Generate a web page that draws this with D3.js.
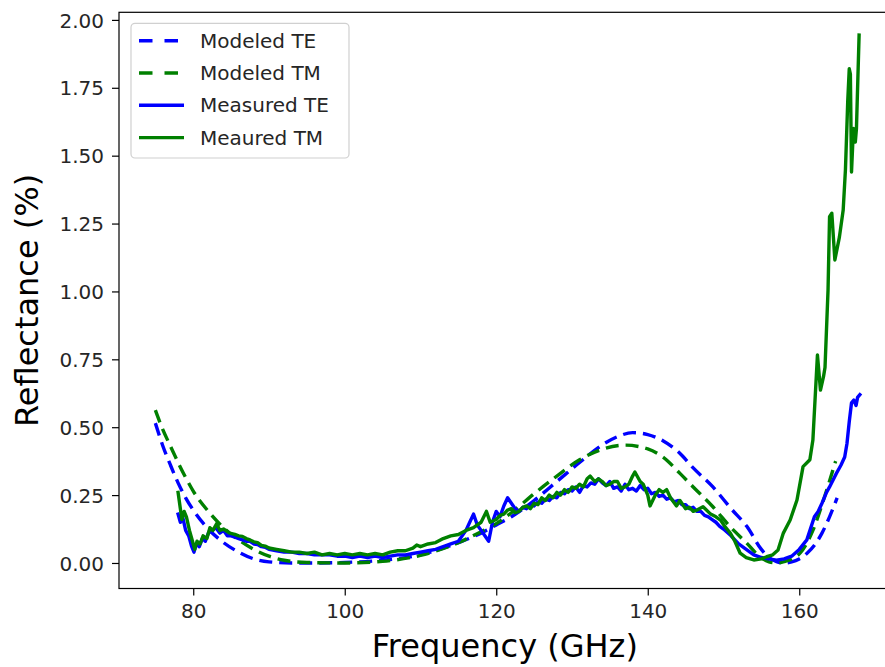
<!DOCTYPE html>
<html>
<head>
<meta charset="utf-8">
<script src="https://cdn.jsdelivr.net/npm/d3@7/dist/d3.min.js"></script>
<style>
  html, body { margin: 0; padding: 0; background: #fff; }
  svg { display: block; font-family: "DejaVu Sans", sans-serif; }
</style>
</head>
<body>
<svg id="chart" width="885" height="667"></svg>
<script>
// ---------- data ----------
const xTicks = [80, 100, 120, 140, 160];
const yTicks = [0, 0.25, 0.5, 0.75, 1.0, 1.25, 1.5, 1.75, 2.0];
const seriesNames = ["Modeled TE", "Modeled TM", "Measured TE", "Meaured TM"];

const modeledTE_f = [75, 76, 77, 78, 79, 80, 82, 84, 86, 88, 90, 93, 96, 100, 105, 110, 115, 118, 120, 122, 125, 128, 131, 134, 136, 138, 140, 142, 144.2, 146, 148.6, 151, 153.1, 155, 156, 157, 158, 159, 160, 161, 162, 163, 164, 165];
const modeledTE_r = [0.515, 0.43, 0.36, 0.295, 0.24, 0.195, 0.125, 0.075, 0.04, 0.015, 0.004, 0.0, 0.0, 0.002, 0.01, 0.03, 0.075, 0.11, 0.14, 0.17, 0.23, 0.3, 0.37, 0.435, 0.465, 0.48, 0.473, 0.45, 0.405, 0.35, 0.28, 0.2, 0.134, 0.05, 0.02, 0.005, 0.0, 0.004, 0.015, 0.035, 0.065, 0.11, 0.17, 0.24];

const modeledTM_f = [75, 76, 77, 78, 79, 80, 82, 84, 86, 88, 90, 92, 95, 100, 105, 110, 115, 118, 120, 122, 125, 128, 131, 133.7, 137, 140, 142, 144.25, 146, 148.6, 151, 153.1, 154.8, 156, 157, 158, 160.1, 161.8, 163.2, 164.8];
const modeledTM_r = [0.563, 0.49, 0.43, 0.37, 0.315, 0.265, 0.19, 0.13, 0.085, 0.05, 0.025, 0.01, 0.002, 0.0, 0.006, 0.028, 0.075, 0.115, 0.145, 0.185, 0.255, 0.32, 0.38, 0.416, 0.434, 0.42, 0.39, 0.33, 0.28, 0.207, 0.13, 0.072, 0.023, 0.004, 0.0, 0.005, 0.036, 0.12, 0.232, 0.375];

const measuredTE_f = [78.0, 78.3, 78.6, 79.0, 79.4, 79.8, 80.1, 80.4, 80.8, 81.2, 81.6, 82.0, 82.5, 83.0, 83.5, 84.0, 84.5, 85, 85.5, 86, 86.5, 87, 87.5, 88, 88.5, 89, 89.5, 90, 91, 92, 93, 94, 95, 96, 97, 98, 99, 100, 101, 102, 103, 104, 105, 106, 107, 108, 109, 110, 111, 112, 113, 114, 115, 116, 116.5, 117, 117.5, 118, 118.5, 119, 119.5, 120, 120.5, 121, 121.5, 122, 122.5, 123, 123.5, 124, 124.5, 125, 125.5, 126, 126.5, 127, 127.5, 128, 128.5, 129, 129.5, 130, 130.5, 131, 131.5, 132, 132.5, 133, 133.5, 134, 134.5, 135, 135.5, 136, 136.5, 137, 137.5, 138, 138.5, 139, 139.5, 140, 140.5, 141, 141.5, 142, 142.5, 143, 143.5, 144, 144.5, 145, 145.5, 146, 146.5, 147, 147.5, 148, 148.5, 149, 149.5, 150, 151, 152, 153, 154, 155, 156, 157, 158, 159, 160, 161, 162, 162.5, 163, 163.6, 164, 164.9, 165.5, 166, 166.3, 166.6, 166.9, 167.2, 167.5, 167.7, 168];
const measuredTE_r = [0.18, 0.15, 0.17, 0.12, 0.10, 0.06, 0.04, 0.07, 0.06, 0.09, 0.08, 0.11, 0.12, 0.13, 0.11, 0.12, 0.10, 0.10, 0.095, 0.09, 0.085, 0.08, 0.08, 0.07, 0.068, 0.06, 0.058, 0.05, 0.045, 0.04, 0.04, 0.035, 0.035, 0.03, 0.03, 0.03, 0.025, 0.025, 0.02, 0.025, 0.02, 0.025, 0.02, 0.025, 0.03, 0.03, 0.035, 0.04, 0.045, 0.05, 0.06, 0.07, 0.08, 0.12, 0.15, 0.18, 0.14, 0.12, 0.10, 0.08, 0.15, 0.19, 0.17, 0.21, 0.24, 0.22, 0.20, 0.19, 0.205, 0.20, 0.215, 0.21, 0.225, 0.22, 0.235, 0.23, 0.245, 0.24, 0.26, 0.255, 0.27, 0.265, 0.28, 0.26, 0.285, 0.28, 0.295, 0.29, 0.31, 0.295, 0.285, 0.30, 0.275, 0.28, 0.265, 0.29, 0.27, 0.275, 0.265, 0.285, 0.27, 0.275, 0.255, 0.26, 0.245, 0.25, 0.235, 0.24, 0.225, 0.23, 0.215, 0.215, 0.20, 0.205, 0.19, 0.19, 0.175, 0.17, 0.16, 0.15, 0.135, 0.125, 0.10, 0.07, 0.05, 0.03, 0.02, 0.015, 0.01, 0.015, 0.025, 0.05, 0.085, 0.17, 0.19, 0.22, 0.26, 0.28, 0.33, 0.36, 0.39, 0.44, 0.52, 0.59, 0.60, 0.58, 0.61, 0.62];

const measuredTM_f = [78.0, 78.3, 78.5, 78.8, 79.1, 79.5, 79.8, 80.2, 80.5, 80.9, 81.3, 81.8, 82.2, 82.6, 83.1, 83.5, 84, 84.8, 85.5, 86, 86.5, 87, 87.5, 88, 88.5, 89, 89.5, 90, 91, 92, 93, 94, 95, 96, 97, 98, 99, 100, 101, 102, 103, 104, 105, 106, 107, 108, 109, 109.5, 110, 111, 112, 113, 114, 115, 116, 117, 118, 118.7, 119.2, 120, 120.5, 121, 121.5, 122, 122.5, 123, 123.5, 124, 124.5, 125, 125.5, 126, 126.5, 127, 127.5, 128, 128.5, 129, 129.5, 130, 130.5, 131, 131.5, 132, 132.4, 133, 133.5, 134, 134.5, 135, 135.5, 136, 136.5, 137, 137.5, 138, 138.3, 139, 139.4, 140, 140.3, 141, 141.5, 142, 142.5, 143, 143.8, 144.25, 145, 145.5, 146, 146.5, 147.3, 148.3, 149, 149.6, 150.3, 150.9, 151.5, 152.2, 153, 154, 155, 155.7, 156.5, 157.2, 157.9, 158.8, 159.7, 160.5, 161.4, 161.8, 162.4, 162.8, 163.2, 163.4, 163.8, 164.0, 164.3, 164.7, 165.3, 165.8, 166.1, 166.4, 166.6, 166.75, 166.9, 167.15, 167.4, 167.55, 167.9];
const measuredTM_r = [0.26, 0.20, 0.16, 0.19, 0.17, 0.12, 0.09, 0.05, 0.08, 0.07, 0.10, 0.09, 0.13, 0.12, 0.145, 0.12, 0.125, 0.11, 0.105, 0.10, 0.098, 0.09, 0.085, 0.078, 0.075, 0.065, 0.062, 0.055, 0.05, 0.045, 0.04, 0.04, 0.035, 0.04, 0.03, 0.035, 0.03, 0.035, 0.03, 0.035, 0.03, 0.035, 0.03, 0.04, 0.045, 0.045, 0.055, 0.066, 0.06, 0.07, 0.075, 0.09, 0.10, 0.105, 0.12, 0.13, 0.15, 0.19, 0.15, 0.16, 0.175, 0.18, 0.195, 0.20, 0.185, 0.19, 0.205, 0.21, 0.2, 0.22, 0.215, 0.24, 0.23, 0.25, 0.24, 0.26, 0.25, 0.27, 0.26, 0.28, 0.275, 0.29, 0.28, 0.31, 0.32, 0.30, 0.31, 0.30, 0.285, 0.29, 0.30, 0.30, 0.275, 0.28, 0.29, 0.32, 0.335, 0.30, 0.29, 0.25, 0.21, 0.25, 0.27, 0.26, 0.27, 0.24, 0.21, 0.23, 0.20, 0.205, 0.19, 0.195, 0.207, 0.18, 0.17, 0.158, 0.13, 0.11, 0.08, 0.036, 0.02, 0.011, 0.015, 0.023, 0.03, 0.048, 0.11, 0.158, 0.232, 0.355, 0.38, 0.453, 0.766, 0.637, 0.686, 0.72, 1.005, 1.275, 1.288, 1.116, 1.2, 1.3, 1.45, 1.7, 1.82, 1.8, 1.44, 1.6, 1.55, 1.6, 1.944];

// ---------- layout ----------
const svg = d3.select("#chart");
const x = d3.scaleLinear().domain([70.2, 172.6]).range([119, 894.7]);
const y = d3.scaleLinear().domain([-0.094, 2.028]).range([588.5, 12.3]);

const blue = "#0000ff", green = "#008000";
const lw = 3.4;
const dash = "13,7";

const zip = (f, r) => f.map((v, i) => [v, r[i]]);

const plot = svg.append("g");
const smooth = d3.line().x(d => x(d[0])).y(d => y(d[1])).curve(d3.curveMonotoneX);
const raw = d3.line().x(d => x(d[0])).y(d => y(d[1]));

plot.append("path").datum(zip(modeledTE_f, modeledTE_r)).attr("d", smooth)
  .attr("fill", "none").attr("stroke", blue).attr("stroke-width", lw).attr("stroke-dasharray", dash);
plot.append("path").datum(zip(modeledTM_f, modeledTM_r)).attr("d", smooth)
  .attr("fill", "none").attr("stroke", green).attr("stroke-width", lw).attr("stroke-dasharray", dash);
plot.append("path").datum(zip(measuredTE_f, measuredTE_r)).attr("d", raw)
  .attr("fill", "none").attr("stroke", blue).attr("stroke-width", lw).attr("stroke-linejoin", "round").attr("stroke-linecap", "square");
plot.append("path").datum(zip(measuredTM_f, measuredTM_r)).attr("d", raw)
  .attr("fill", "none").attr("stroke", green).attr("stroke-width", lw).attr("stroke-linejoin", "round").attr("stroke-linecap", "square");

// ---------- axes ----------
const xAxis = d3.axisBottom(x).tickValues(xTicks).tickSize(7).tickPadding(8).tickFormat(d3.format("d"));
const yAxis = d3.axisLeft(y).tickValues(yTicks).tickSize(7).tickPadding(8).tickFormat(d3.format(".2f"));

const gx = svg.append("g").attr("transform", `translate(0,${y.range()[0]})`).call(xAxis);
const gy = svg.append("g").attr("transform", `translate(${x.range()[0]},0)`).call(yAxis);
[gx, gy].forEach(g => {
  g.select(".domain").remove();
  g.selectAll(".tick line").attr("stroke", "#000").attr("stroke-width", 1.2);
  g.selectAll(".tick text").attr("fill", "#262626").style("font-size", "20px").style("font-family", "DejaVu Sans");
});
gy.selectAll(".tick text").attr("dy", "0.36em");

// spines
const [x0, x1] = x.range(), [y0, y1] = y.range();
svg.append("rect").attr("x", x0).attr("y", y1).attr("width", x1 - x0).attr("height", y0 - y1)
  .attr("fill", "none").attr("stroke", "#000").attr("stroke-width", 1.2);

// labels
svg.append("text").attr("x", (x0 + x1) / 2 - 2).attr("y", 657).attr("text-anchor", "middle")
  .style("font-size", "32px").attr("fill", "#000").text("Frequency (GHz)");
svg.append("text").attr("transform", `translate(38,${(y0 + y1) / 2}) rotate(-90)`).attr("text-anchor", "middle")
  .style("font-size", "32px").attr("fill", "#000").text("Reflectance (%)");

// ---------- legend ----------
const leg = svg.append("g");
leg.append("rect").attr("x", 131).attr("y", 23.3).attr("width", 218).attr("height", 134.7).attr("rx", 4)
  .attr("fill", "#fff").attr("fill-opacity", 0.8).attr("stroke", "#d0d0d0").attr("stroke-width", 1.2);
const styles = [
  { c: blue, d: "13.5,12" }, { c: green, d: "13.5,12" }, { c: blue, d: null }, { c: green, d: null }
];
seriesNames.forEach((name, i) => {
  const cy = 40.7 + i * 32.3;
  const l = leg.append("line").attr("x1", 139).attr("x2", 184).attr("y1", cy).attr("y2", cy)
    .attr("stroke", styles[i].c).attr("stroke-width", lw);
  if (styles[i].d) l.attr("stroke-dasharray", styles[i].d);
  leg.append("text").attr("x", 200).attr("y", cy + 7).style("font-size", "20px").attr("fill", "#262626").text(name);
});
</script>
</body>
</html>
